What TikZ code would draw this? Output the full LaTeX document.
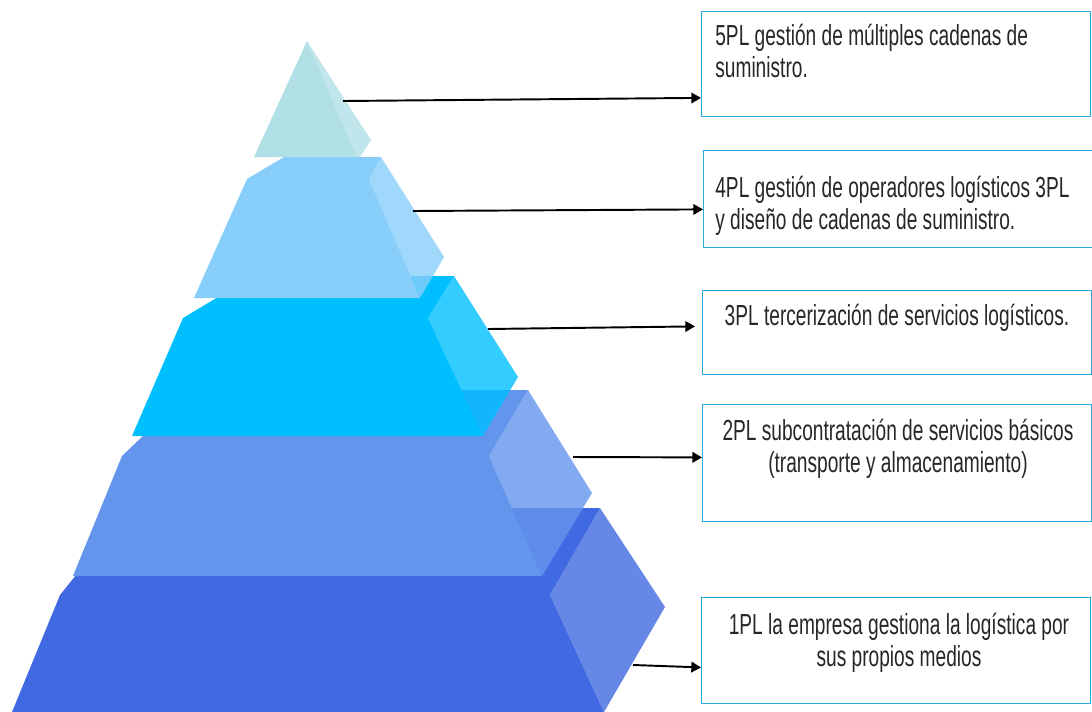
\documentclass[tikz,border=0pt]{standalone}
\usepackage{fontspec}
\setmainfont{Liberation Sans}[FakeStretch=0.66]
\usetikzlibrary{arrows.meta}

\definecolor{pl5}{RGB}{176,224,230}
\definecolor{pl4}{RGB}{135,206,250}
\definecolor{pl3}{RGB}{0,191,255}
\definecolor{pl2}{RGB}{100,149,237}
\definecolor{pl1}{RGB}{65,105,225}
\definecolor{boxline}{RGB}{41,171,226}

\tikzset{
  tierside/.style={fill=#1, fill opacity=0.8},
  plbox/.style={draw=boxline, line width=0.8pt, minimum width=7.78cm, inner sep=0pt, anchor=north west},
  pltext/.style={font=\fontsize{16.5}{18.2}\selectfont, inner sep=0pt, text=black!85},
  plarrow/.style={-{Triangle[length=5.5pt,width=6pt]}, line width=1.1pt}
}

\begin{document}
\begin{tikzpicture}[x=0.02cm,y=-0.02cm]
			\useasboundingbox (0,0) rectangle (1092,711);
			% 1PL
			\fill[pl1] (60,595) -- (130,508) -- (600,508) -- (550,595) -- cycle;
			\fill[pl1] (60,595) -- (12,712) -- (604,712) -- (550,595) -- cycle;
			\fill[tierside=pl1] (600,508) -- (665,607) -- (604,712) -- (550,595) -- cycle;
			% 2PL
			\fill[pl2] (122,456) -- (191,390) -- (528,390) -- (489,456) -- cycle;
			\fill[pl2] (122,456) -- (73,576) -- (542,576) -- (489,456) -- cycle;
			\fill[tierside=pl2] (528,390) -- (592,493) -- (542,576) -- (489,456) -- cycle;
			% 3PL
			\fill[pl3] (183,318) -- (253,276) -- (454,276) -- (428,318) -- cycle;
			\fill[pl3] (183,318) -- (132,436) -- (483,436) -- (428,318) -- cycle;
			\fill[tierside=pl3] (454,276) -- (518,377) -- (483,436) -- (428,318) -- cycle;
			% 4PL
			\fill[pl4] (247,179) -- (284,157) -- (381,157) -- (369,179) -- cycle;
			\fill[pl4] (247,179) -- (194,298) -- (420,298) -- (369,179) -- cycle;
			\fill[tierside=pl4] (381,157) -- (444,257) -- (420,298) -- (369,179) -- cycle;
			% 5PL
			\fill[pl5] (307,41) -- (254,157) -- (357,157) -- cycle;
			\fill[tierside=pl5] (307,41) -- (371,140) -- (360,157) -- (357,157) -- cycle;

			\node[plbox, minimum height=2.1cm] (box5) at (701,11) {};
			\node[plbox, minimum height=1.94cm] (box4) at (703,150) {};
			\node[plbox, minimum height=1.68cm] (box3) at (702,290) {};
			\node[plbox, minimum height=2.34cm] (box2) at (702,404) {};
			\node[plbox, minimum height=2.12cm] (box1) at (701,597) {};

			\node[pltext, anchor=north west, align=left] (txt5) at (715,24) {5PL gestión de múltiples cadenas de\\suministro.};
			\node[pltext, anchor=north west, align=left] (txt4) at (715,176) {4PL gestión de operadores logísticos 3PL\\y diseño de cadenas de suministro.};
			\node[pltext, anchor=north, align=center] (txt3) at (897,304) {3PL tercerización de servicios logísticos.};
			\node[pltext, anchor=north, align=center] (txt2) at (898,419) {2PL subcontratación de servicios básicos\\(transporte y almacenamiento)};
			\node[pltext, anchor=north, align=center] (txt1) at (899,613) {1PL la empresa gestiona la logística por\\sus propios medios};

			\coordinate (s5) at (343,101);
			\coordinate (s4) at (413,211);
			\coordinate (s3) at (488,329);
			\coordinate (s2) at (573,457);
			\coordinate (s1) at (633,665);
			\draw[plarrow] (s5) -- ([yshift=0.39cm]box5.south west);
			\draw[plarrow] (s4) -- ([yshift=0.78cm]box4.south west);
			\draw[plarrow] (s3) -- ([xshift=-0.14cm,yshift=0.98cm]box3.south west);
			\draw[plarrow] (s2) -- ([yshift=1.3cm]box2.south west);
			\draw[plarrow] (s1) -- ([yshift=0.74cm]box1.south west);
		\end{tikzpicture}
\end{document}
